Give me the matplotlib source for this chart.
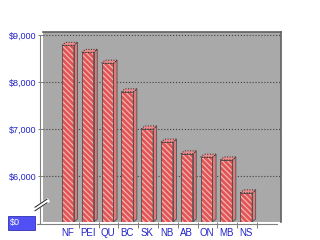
import matplotlib
matplotlib.use("Agg")
import matplotlib.pyplot as plt
from matplotlib.patches import Polygon, Rectangle
import numpy as np

# data
provinces = ["NF", "PEI", "QU", "BC", "SK", "NB", "AB", "ON", "MB", "NS"]
amounts = [8780, 8630, 8400, 7790, 7000, 6720, 6470, 6400, 6340, 5640]
tick_values = [6000, 7000, 8000, 9000]
tick_labels = ["$6,000", "$7,000", "$8,000", "$9,000"]
base_label = "$0"

W, H = 320, 240
plt.rcParams['font.family'] = ['Liberation Sans', 'DejaVu Sans']
plt.rcParams['hatch.linewidth'] = 0.9
blue = '#2222c8'

def px(x, y):
    # pixel (from top-left) to figure coords
    return x / W, 1 - y / H

fig = plt.figure(figsize=(3.2, 2.4), dpi=100)
ax = fig.add_axes([43 / W, 18 / H, 238 / W, 190 / H])
ax.set_facecolor('#a9a9a9')

ybot, ytop = 5020, 9064
ax.set_xlim(-1.26, 10.76)
ax.set_ylim(ybot, ytop)

x = np.arange(len(provinces))
vals = np.array(amounts)
w = 0.6
dx, dy = 0.18, 64

# front faces, striped
ax.bar(x, vals - ybot, bottom=ybot, width=w, color='#e05454',
       edgecolor='#f6b4b4', hatch='\\' * 6, linewidth=0, zorder=3)
ax.bar(x, vals - ybot, bottom=ybot, width=w, fill=False,
       edgecolor='#505050', linewidth=0.6, zorder=4)

# side and top faces
for xi, v in zip(x, vals):
    r = xi + w / 2
    l = xi - w / 2
    side = Polygon([(r, ybot), (r + dx, ybot + dy), (r + dx, v + dy), (r, v)],
                   closed=True, facecolor='#e07a7a', edgecolor='#505050',
                   linewidth=0.6, zorder=3)
    top = Polygon([(l, v), (l + dx, v + dy), (r + dx, v + dy), (r, v)],
                  closed=True, facecolor='#ea8c8c', edgecolor='#202020',
                  linewidth=0.7, linestyle=':', zorder=4)
    ax.add_patch(side)
    ax.add_patch(top)

ax.set_yticks(tick_values)
ax.set_yticklabels(tick_labels)
ax.grid(axis='y', linestyle=':', color='#404040', linewidth=0.8, zorder=1)
ax.set_axisbelow(True)

ax.set_xticks(x)
ax.set_xticklabels(provinces)
ax.set_xticks(x[:] + 0.55, minor=True)
ax.tick_params(axis='x', which='major', length=0, pad=4.5, labelsize=7, labelcolor=blue)
ax.tick_params(axis='x', which='minor', length=4, color='#808080', width=0.7)
ax.tick_params(axis='y', length=3.5, pad=1, labelsize=6.5, labelcolor=blue,
               color='#808080', width=0.7)

for s in ['left', 'bottom']:
    ax.spines[s].set_visible(False)
for s in ['top', 'right']:
    ax.spines[s].set_color('#606060')
    ax.spines[s].set_linewidth(1.2)

# front axis lines
ax.plot([-3 / 238, -3 / 238], [-2 / 190, 187 / 190], transform=ax.transAxes,
        clip_on=False, color='#808080', lw=0.8)
ax.plot([-6 / 238, 234 / 238], [-2 / 190, -2 / 190], transform=ax.transAxes,
        clip_on=False, color='#808080', lw=0.8)

# axis break mark
p1, p2 = px(35, 209), px(47, 201)
fig.add_artist(plt.Line2D([p1[0], p2[0]], [p1[1], p2[1]], color='white', lw=3.2))
for off in (-1.8, 1.8):
    q1, q2 = px(35, 209 + off), px(47, 201 + off)
    fig.add_artist(plt.Line2D([q1[0], q2[0]], [q1[1], q2[1]], color='#202020', lw=0.7))

# $0 box
bx, by = px(8, 230)
fig.add_artist(Rectangle((bx, by), 27 / W, 14 / H, transform=fig.transFigure,
                         facecolor='#5050f4', edgecolor='#3030b0', lw=0.6))
tx, ty = px(10, 223)
fig.text(tx, ty, base_label, color='white', fontsize=6.5, va='center', ha='left')

fig.savefig("out.png", dpi=100)
